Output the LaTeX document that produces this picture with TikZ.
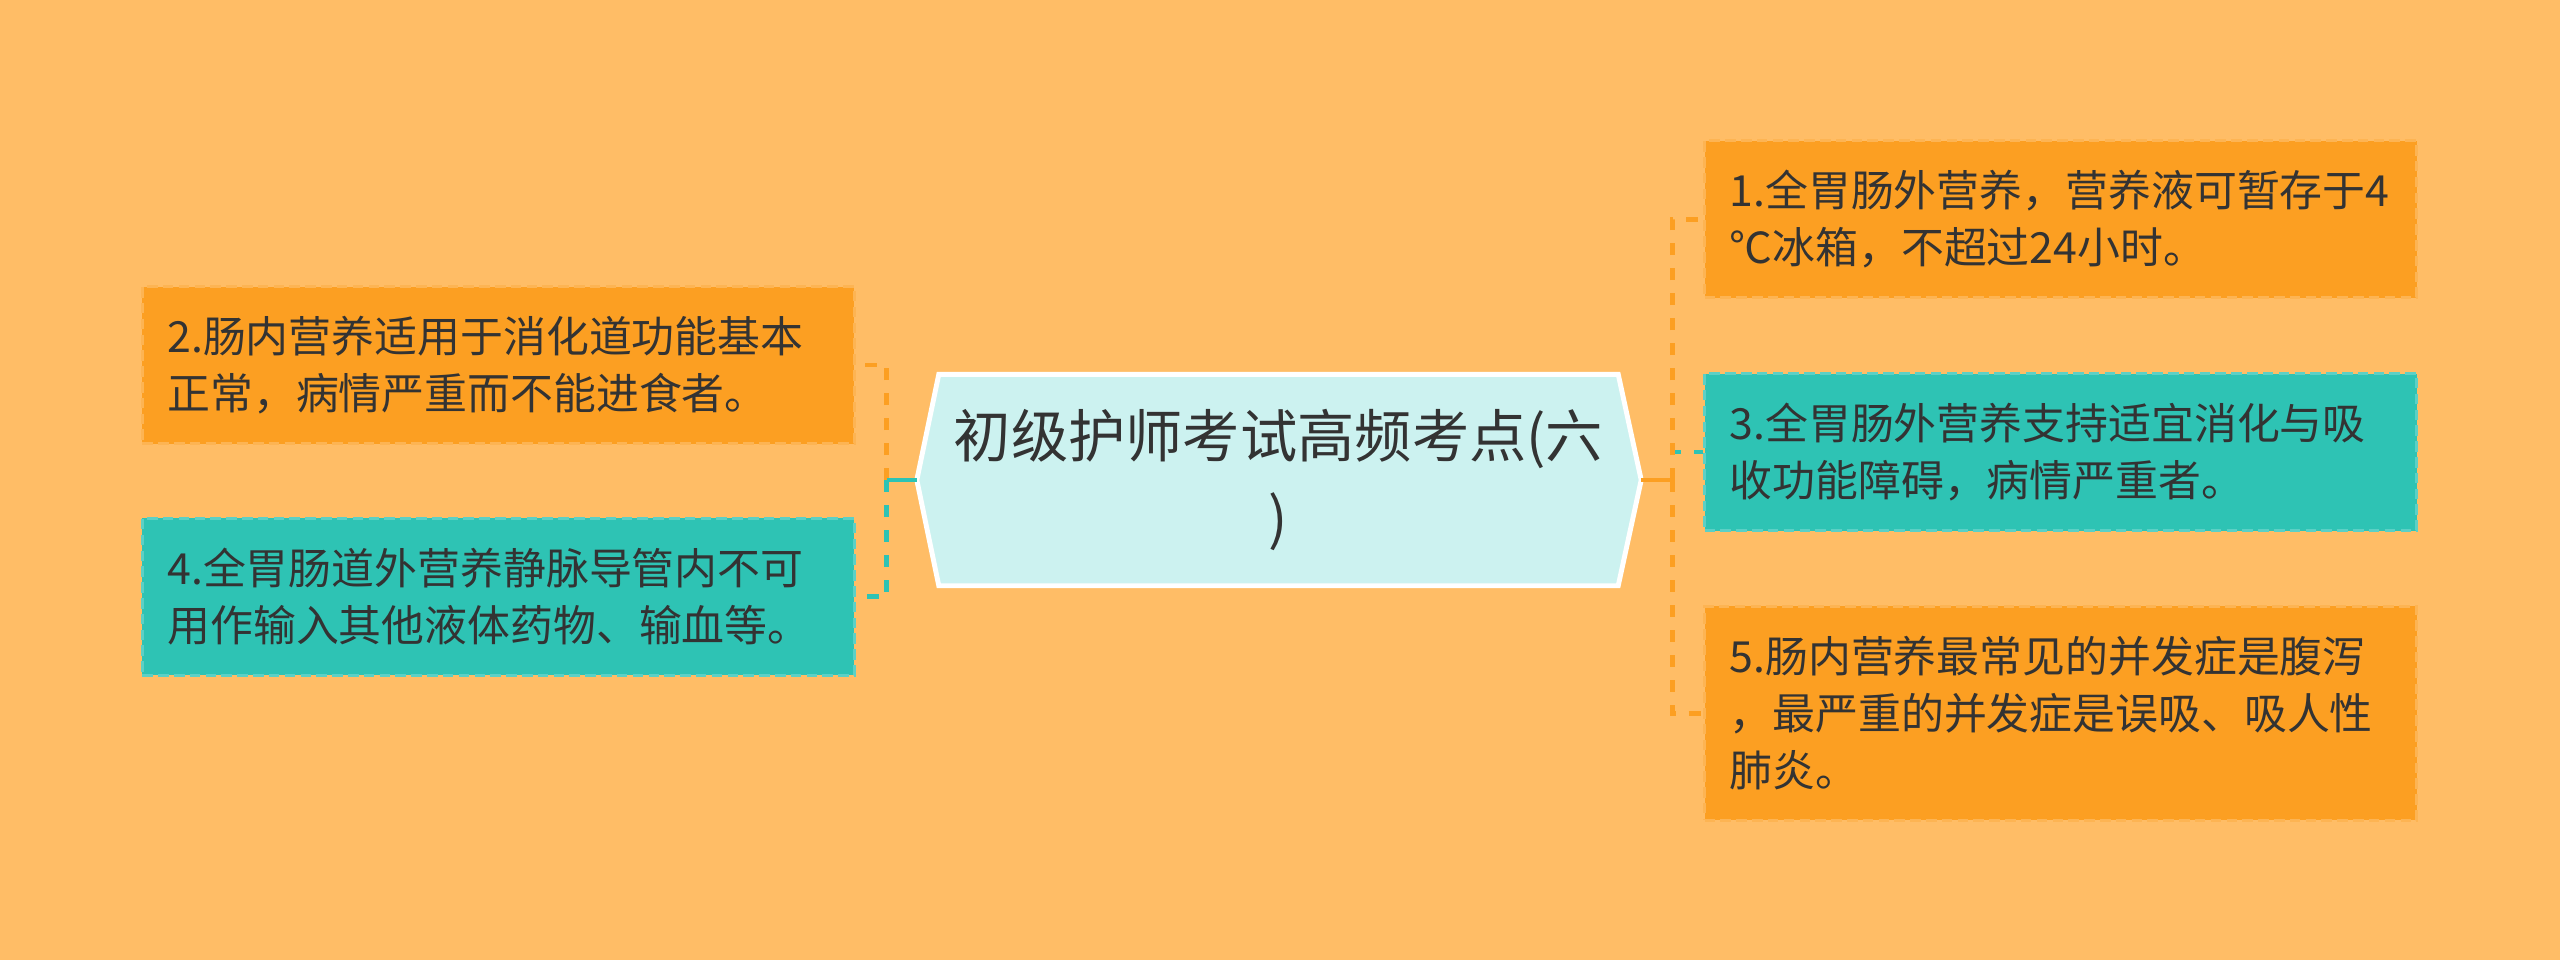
\documentclass[tikz,border=0pt]{standalone}
\usepackage{fontspec}
\usepackage{xcolor}
\usepackage{tikz}
\usetikzlibrary{positioning, calc, backgrounds}
\newfontfamily\cjk{Noto Sans CJK SC}
\definecolor{bgColor}{HTML}{FFBD66}
\definecolor{boxOrange}{HTML}{FC9F22}
\definecolor{boxTeal}{HTML}{2EC3B4}
\definecolor{rootFill}{HTML}{CCF2F0}
\definecolor{textColor}{HTML}{333333}
\tikzset{
    rootnode/.style={
        minimum width=6.78cm,
        minimum height=2.10cm,
        inner sep=0pt,
        align=center,
        text=textColor,
        font=\cjk\fontsize{16.3}{23.2}\selectfont
    },
    leafnode/.style={
        rectangle,
        draw=#1!78!white,
        fill=#1,
        line width=0.8pt,
        dash pattern=on 3pt off 1.5pt,
        text width=6.62cm,
        inner xsep=0.25cm,
        minimum height=1.57cm,
        align=left,
        text=textColor,
        font=\cjk\fontsize{12.2}{16.2}\selectfont
    },
    link/.style={
        line width=1.4pt,
        dash pattern=on 0.12cm off 0.13cm
    },
    stub/.style={
        line width=1.4pt
    }
}

\begin{document}
\begin{tikzpicture}
    \useasboundingbox (0,0) rectangle (25.6,9.6);

    \node[rootnode] (root) at (12.785,4.80) {初级护师考试高频考点(六\\)};
    \coordinate (tipR) at ([xshift=0.23cm]root.east);
    \coordinate (tipL) at ([xshift=-0.22cm]root.west);

    % fond et hexagone
    \begin{scope}[on background layer]
        \fill[bgColor] (0,0) rectangle (25.6,9.6);
        \draw[white, line width=1.4pt, fill=rootFill, line join=miter]
            (root.north west) -- (root.north east) -- (tipR) -- (root.south east)
            -- (root.south west) -- (tipL) -- cycle;
    \end{scope}

    % droite
    \node[leafnode=boxTeal, right=0.85cm of root, yshift=0.28cm] (b3) {3.全胃肠外营养支持适宜消化与吸\\收功能障碍，病情严重者。};
    \node[leafnode=boxOrange, above=0.73cm of b3] (b1) {1.全胃肠外营养，营养液可暂存于4\\℃冰箱，不超过24小时。};
    \node[leafnode=boxOrange, below=0.73cm of b3, minimum height=2.14cm] (b5) {5.肠内营养最常见的并发症是腹泻\\，最严重的并发症是误吸、吸人性\\肺炎。};

    % gauche
    \node[leafnode=boxOrange, left=0.83cm of root, yshift=1.15cm] (b2) {2.肠内营养适用于消化道功能基本\\正常，病情严重而不能进食者。};
    \node[leafnode=boxTeal, below=0.72cm of b2] (b4) {4.全胃肠道外营养静脉导管内不可\\用作输入其他液体药物、输血等。};

    \coordinate (jR) at ([xshift=0.31cm]tipR);
    \coordinate (jL) at ([xshift=-0.30cm]tipL);

    % liens
    \draw[link, boxTeal] (jR) |- (b3.west);
    \draw[link, boxOrange] (jR) |- (b1.west);
    \draw[link, boxOrange] (jR) |- (b5.west);
    \draw[stub, boxOrange] (tipR) -- (jR);

    \draw[link, boxOrange] (jL) |- (b2.east);
    \draw[link, boxTeal] (jL) |- (b4.east);
    \draw[stub, boxTeal] (tipL) -- (jL);
\end{tikzpicture}
\end{document}
